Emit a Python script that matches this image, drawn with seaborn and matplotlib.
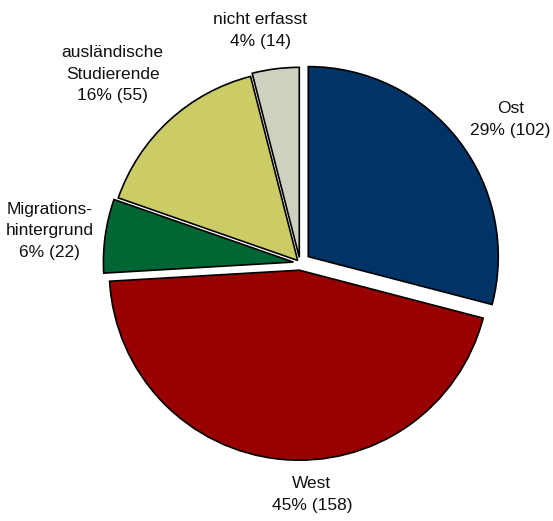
import numpy as np
import matplotlib
matplotlib.use('Agg')
import matplotlib.pyplot as plt
import seaborn as sns

# Daten
categories = ['Ost', 'West', 'Migrations-\nhintergrund', 'ausländische\nStudierende', 'nicht erfasst']
counts = [102, 158, 22, 55, 14]
colors = ['#003366', '#990000', '#006633', '#CCCC66', '#CFD0C0']

# Layout
explode = [0.055, 0.038, 0.035, 0.018, 0.03]
label_dist = [1.34, 1.22, 1.33, 1.40, 1.24]
label_shift = [-3.4, 8.6, 0.6, 2.2, 2.5]   # Grad

sns.set_theme(style='white')
plt.rcParams['font.family'] = ['Liberation Sans', 'DejaVu Sans']

W, H, dpi = 553, 521, 100
fig = plt.figure(figsize=(W / dpi, H / dpi), dpi=dpi)
ax = fig.add_axes([0, 0, 1, 1])

wedges, _ = ax.pie(counts, colors=colors, explode=explode, startangle=90,
                   counterclock=False,
                   wedgeprops=dict(edgecolor='black', linewidth=1.2))

total = sum(counts)
for w, cat, n, d, s in zip(wedges, categories, counts, label_dist, label_shift):
    ang = np.deg2rad((w.theta1 + w.theta2) / 2 + s)
    pct = round(n / total * 100)
    ax.text(d * np.cos(ang), d * np.sin(ang), f'{cat}\n{pct}% ({n})',
            ha='center', va='center', fontsize=12.5, color='#111111',
            linespacing=1.55)

# Pixel-Skalierung: Radius 1 = 190 px, Mitte bei (300, 263)
r_px, cx, cy = 190, 300, 263
ax.set_aspect('auto')
ax.set_xlim(-cx / r_px, (W - cx) / r_px)
ax.set_ylim(-(H - cy) / r_px, cy / r_px)
ax.axis('off')

fig.savefig('out.png', dpi=dpi, facecolor='white')
